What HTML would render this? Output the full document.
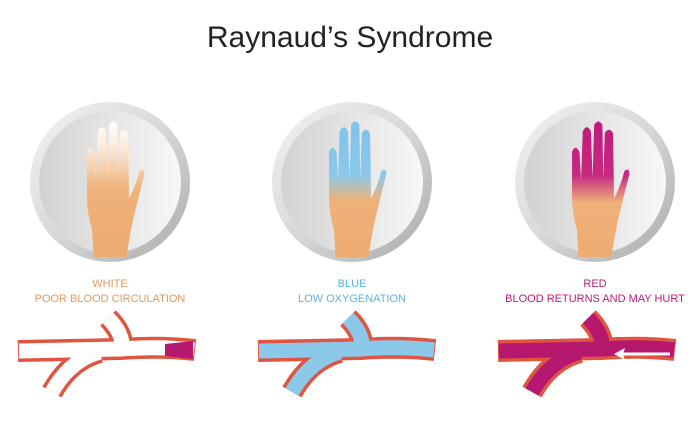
<!DOCTYPE html>
<html><head><meta charset="utf-8"><style>
html,body{margin:0;padding:0;background:#fff;}
svg{display:block}
</style></head><body>
<svg width="700" height="431" viewBox="0 0 700 431" xmlns="http://www.w3.org/2000/svg">
<defs>
<linearGradient id="ring" x1="0" y1="0" x2="1" y2="1">
<stop offset="0" stop-color="#f4f4f4"/><stop offset="0.5" stop-color="#d8d8d8"/><stop offset="1" stop-color="#a9a9a9"/></linearGradient>
<linearGradient id="disk" x1="0" y1="0" x2="1" y2="0">
<stop offset="0" stop-color="#d2d2d2"/><stop offset="1" stop-color="#f7f7f7"/></linearGradient>
<linearGradient id="hw" x1="0" y1="0" x2="0" y2="1">
<stop offset="0" stop-color="#ffffff"/><stop offset="0.2" stop-color="#fbe8d6"/><stop offset="0.5" stop-color="#eeb27a"/><stop offset="1" stop-color="#eeab70"/></linearGradient>
<linearGradient id="hb" x1="0" y1="0" x2="0" y2="1">
<stop offset="0" stop-color="#7dc3ec"/><stop offset="0.4" stop-color="#8cc8ea"/><stop offset="0.58" stop-color="#eeb27a"/><stop offset="1" stop-color="#eeab70"/></linearGradient>
<linearGradient id="hr" x1="0" y1="0" x2="0" y2="1">
<stop offset="0" stop-color="#c2197c"/><stop offset="0.4" stop-color="#c52a80"/><stop offset="0.6" stop-color="#eeb27a"/><stop offset="1" stop-color="#eeab70"/></linearGradient>
<path id="hand" d="M-20,73 L-22,40 Q-28,20 -28,0 L-28,-55 Q-24,-65 -19,-55 L-17,-20 L-15,-80 Q-10,-90 -5,-80 L-3,-22 L-1,-88 Q4,-96 9,-88 L10,-22 L12,-78 Q17,-86 22,-78 L23,-15 L23,2 Q30,-10 36,-32 Q42,-36 42,-28 Q36,-5 30,20 Q25,40 20,73 Z"/>
<g id="vout" fill="none" stroke="#e0553f" stroke-width="22" stroke-linecap="butt" stroke-linejoin="round">
<path d="M18,351 L120,349 Q160,346 195,350"/>
<path d="M122,350 Q124,334 108,318"/>
<path d="M100,352 Q70,360 52,392"/>
</g>
</defs>
<text x="350" y="47" text-anchor="middle" font-family="Liberation Sans, sans-serif" font-size="30" fill="#222">Raynaud’s Syndrome</text>

<g transform="translate(110,182)">
<circle r="80" fill="url(#ring)"/><circle r="71" fill="url(#disk)"/>
<use href="#hand" fill="url(#hw)" transform="translate(0,15) scale(0.82)"/></g>
<g transform="translate(352,182)">
<circle r="80" fill="url(#ring)"/><circle r="71" fill="url(#disk)"/>
<use href="#hand" fill="url(#hb)" transform="translate(0,15) scale(0.82)"/></g>
<g transform="translate(595,182)">
<circle r="80" fill="url(#ring)"/><circle r="71" fill="url(#disk)"/>
<use href="#hand" fill="url(#hr)" transform="translate(0,15) scale(0.82)"/></g>

<g font-family="Liberation Sans, sans-serif" font-size="11" text-anchor="middle">
<text x="110" y="287" fill="#e09a5c">WHITE</text>
<text x="110" y="302" fill="#e09a5c">POOR BLOOD CIRCULATION</text>
<text x="352" y="287" fill="#5fb5e3">BLUE</text>
<text x="352" y="302" fill="#5fb5e3">LOW OXYGENATION</text>
<text x="595" y="287" fill="#bb1a7a">RED</text>
<text x="595" y="302" fill="#bb1a7a">BLOOD RETURNS AND MAY HURT</text>
</g>

<g>
<use href="#vout"/>
<g fill="none" stroke="#fff" stroke-width="15" stroke-linejoin="round">
<path d="M19,351 L120,349 Q160,346 194,350"/>
<path d="M122,350 Q124,334 108,318"/>
<path d="M100,352 Q70,360 52,392"/>
</g>
<path d="M165,344 L193,341 L193,359 L165,356 Z" fill="#b5186e"/>
</g>
<g transform="translate(240,0)">
<use href="#vout"/>
<g fill="none" stroke="#8cc8ea" stroke-width="15" stroke-linejoin="round">
<path d="M19,351 L120,349 Q160,346 194,350"/>
<path d="M122,350 Q124,334 108,318"/>
<path d="M100,352 Q70,360 52,392"/>
</g>
</g>
<g transform="translate(480,0)">
<use href="#vout"/>
<g fill="none" stroke="#b5186e" stroke-width="15" stroke-linejoin="round">
<path d="M19,351 L120,349 Q160,346 194,350"/>
<path d="M122,350 Q124,334 108,318"/>
<path d="M100,352 Q70,360 52,392"/>
</g>
<line x1="190" y1="354" x2="140" y2="354" stroke="#fff" stroke-width="3"/>
<path d="M134,354 L145,348 L143,354 L145,360 Z" fill="#fff"/>
</g>
</svg>
</body></html>
